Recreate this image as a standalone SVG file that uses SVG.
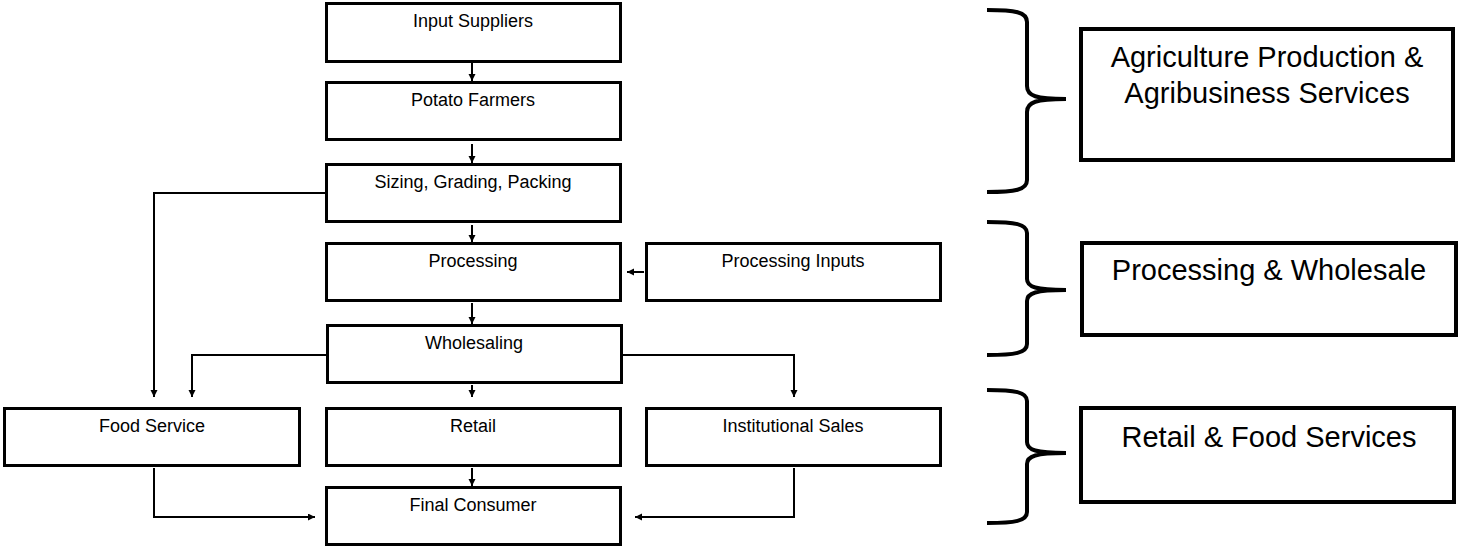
<svg xmlns="http://www.w3.org/2000/svg" width="1458" height="547" viewBox="0 0 1458 547">
<style>
.box{fill:#fff;stroke:#000;stroke-width:3}
.gbox{fill:#fff;stroke:#000;stroke-width:4}
.lbl{font-family:"Liberation Sans",Arial,sans-serif;font-size:18px;fill:#000;text-anchor:middle}
.big{font-family:"Liberation Sans",Arial,sans-serif;font-size:29px;fill:#000;text-anchor:middle}
.con{fill:none;stroke:#000;stroke-width:2;marker-end:url(#arr)}
.brace{fill:none;stroke:#000;stroke-width:4;stroke-linecap:butt}
</style>
<defs>
<marker id="arr" markerUnits="userSpaceOnUse" markerWidth="8" markerHeight="8" refX="7" refY="3.5" orient="auto">
<path d="M0,0 L7,3.5 L0,7 z" fill="#000"/>
</marker>
</defs>
<rect width="1458" height="547" fill="#fff"/>
<g id="connectors">
<path class="con" d="M472,63 V81"/>
<path class="con" d="M472,144 V163"/>
<path class="con" d="M472,225 V242"/>
<path class="con" d="M472,303 V324"/>
<path class="con" d="M644,272 H627"/>
<path class="con" d="M326,193 H154 V397"/>
<path class="con" d="M327,355 H192 V397"/>
<path class="con" d="M472,385 V397"/>
<path class="con" d="M622,355 H794 V397"/>
<path class="con" d="M472,468 V486"/>
<path class="con" d="M154,468 V517 H315"/>
<path class="con" d="M794,468 V517 H635"/>
</g>
<g id="input-suppliers"><rect class="box" x="326.5" y="3.5" width="294" height="58"/><text class="lbl" x="473" y="27">Input Suppliers</text></g>
<g id="potato-farmers"><rect class="box" x="326.5" y="82.5" width="294" height="57"/><text class="lbl" x="473" y="106">Potato Farmers</text></g>
<g id="sizing"><rect class="box" x="326.5" y="164.5" width="294" height="57"/><text class="lbl" x="473" y="188">Sizing, Grading, Packing</text></g>
<g id="processing"><rect class="box" x="326.5" y="243.5" width="294" height="57"/><text class="lbl" x="473" y="267">Processing</text></g>
<g id="processing-inputs"><rect class="box" x="646.5" y="243.5" width="294" height="57"/><text class="lbl" x="793" y="267">Processing Inputs</text></g>
<g id="wholesaling"><rect class="box" x="327.5" y="325.5" width="294" height="57"/><text class="lbl" x="474" y="349">Wholesaling</text></g>
<g id="food-service"><rect class="box" x="4.5" y="408.5" width="295" height="57"/><text class="lbl" x="152" y="432">Food Service</text></g>
<g id="retail"><rect class="box" x="326.5" y="408.5" width="294" height="57"/><text class="lbl" x="473" y="432">Retail</text></g>
<g id="institutional-sales"><rect class="box" x="646.5" y="408.5" width="294" height="57"/><text class="lbl" x="793" y="432">Institutional Sales</text></g>
<g id="final-consumer"><rect class="box" x="326.5" y="487.5" width="294" height="57"/><text class="lbl" x="473" y="511">Final Consumer</text></g>
<g id="brace-1"><path class="brace" d="M987,10 C1015,10 1027,12 1027,22 L1027,86 C1027,96 1036,99 1066,99 M1066,99 C1036,99 1027,102 1027,112 L1027,180 C1027,190 1015,192 987,192"/></g>
<g id="brace-2"><path class="brace" d="M987,222 C1015,222 1027,224 1027,233 L1027,279 C1027,287 1036,290 1066,290 M1066,290 C1036,290 1027,293 1027,301 L1027,344 C1027,353 1015,355 987,355"/></g>
<g id="brace-3"><path class="brace" d="M987,390 C1015,390 1027,392 1027,401 L1027,442 C1027,450 1036,453 1066,453 M1066,453 C1036,453 1027,456 1027,464 L1027,512 C1027,521 1015,523 987,523"/></g>
<g id="group-agri"><rect class="gbox" x="1081" y="29" width="372" height="131"/><text class="big" x="1267" y="67">Agriculture Production &amp;</text><text class="big" x="1267" y="103">Agribusiness Services</text></g>
<g id="group-processing"><rect class="gbox" x="1082" y="243" width="374" height="92"/><text class="big" x="1269" y="280">Processing &amp; Wholesale</text></g>
<g id="group-retail"><rect class="gbox" x="1081" y="408" width="373" height="94"/><text class="big" x="1269" y="447">Retail &amp; Food Services</text></g>
</svg>
